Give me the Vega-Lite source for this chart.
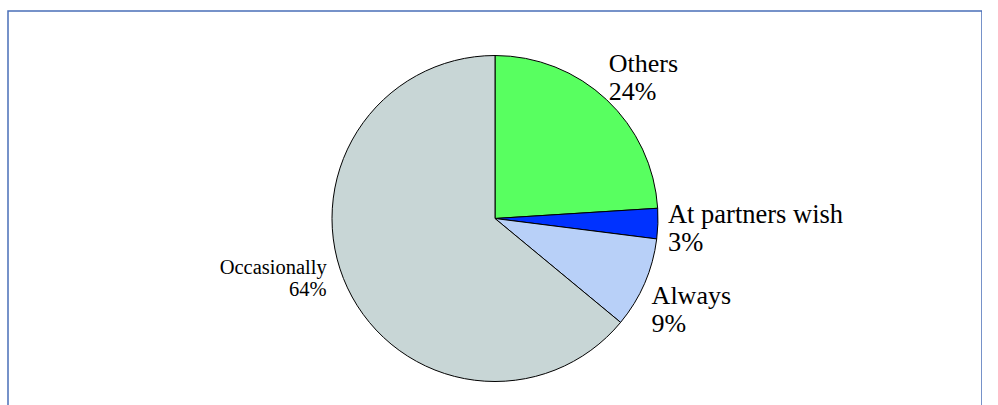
{
  "$schema": "https://vega.github.io/schema/vega-lite/v6.json",
  "autosize": {"type": "none"},
  "padding": {"left": 8, "top": 11, "right": 0, "bottom": 0},
  "width": 974,
  "height": 415,
  "background": "white",
  "view": {"stroke": "#4a6fb8", "strokeWidth": 1.5},
  "data": {
    "values": [
      {"category": "Others", "value": 24},
      {"category": "At partners wish", "value": 3},
      {"category": "Always", "value": 9},
      {"category": "Occasionally", "value": 64}
    ]
  },
  "transform": [
    {"window": [{"op": "row_number", "as": "rank"}]},
    {"stack": "value", "groupby": [], "sort": [{"field": "rank", "order": "ascending"}], "as": ["v0", "v1"]},
    {"calculate": "(datum.v0 + datum.v1) / 2", "as": "mid"},
    {"calculate": "[datum.category, datum.value + '%']", "as": "label"}
  ],
  "layer": [
    {
      "mark": {"type": "arc", "radius": 163, "stroke": "black", "strokeWidth": 1},
      "encoding": {
        "theta": {"field": "v0", "type": "quantitative", "stack": null, "scale": {"domain": [0, 100]}},
        "theta2": {"field": "v1"},
        "color": {
          "field": "category",
          "type": "nominal",
          "scale": {
            "domain": ["Others", "At partners wish", "Always", "Occasionally"],
            "range": ["#58ff60", "#0032ff", "#b8d0f8", "#c8d6d6"]
          },
          "legend": null
        }
      }
    },
    {
      "transform": [{"filter": "datum.category === 'Others'"}],
      "mark": {"type": "text", "radius": 175, "align": "left", "baseline": "middle", "dx": -6, "dy": -27, "font": "Liberation Serif", "fontSize": 26, "lineHeight": 28, "color": "black"},
      "encoding": {"theta": {"field": "mid", "type": "quantitative", "stack": null}, "text": {"field": "label"}}
    },
    {
      "transform": [{"filter": "datum.category === 'At partners wish'"}],
      "mark": {"type": "text", "radius": 175, "align": "left", "baseline": "middle", "dx": -2, "dy": -9, "font": "Liberation Serif", "fontSize": 26.5, "lineHeight": 28, "color": "black"},
      "encoding": {"theta": {"field": "mid", "type": "quantitative", "stack": null}, "text": {"field": "label"}}
    },
    {
      "transform": [{"filter": "datum.category === 'Always'"}],
      "mark": {"type": "text", "radius": 175, "align": "left", "baseline": "middle", "dx": -4, "dy": 8, "font": "Liberation Serif", "fontSize": 26, "lineHeight": 28, "color": "black"},
      "encoding": {"theta": {"field": "mid", "type": "quantitative", "stack": null}, "text": {"field": "label"}}
    },
    {
      "transform": [{"filter": "datum.category === 'Occasionally'"}],
      "mark": {"type": "text", "radius": 175, "align": "right", "baseline": "middle", "dx": -10, "dy": -25, "font": "Liberation Serif", "fontSize": 20.5, "lineHeight": 22, "color": "black"},
      "encoding": {"theta": {"field": "mid", "type": "quantitative", "stack": null}, "text": {"field": "label"}}
    }
  ]
}
